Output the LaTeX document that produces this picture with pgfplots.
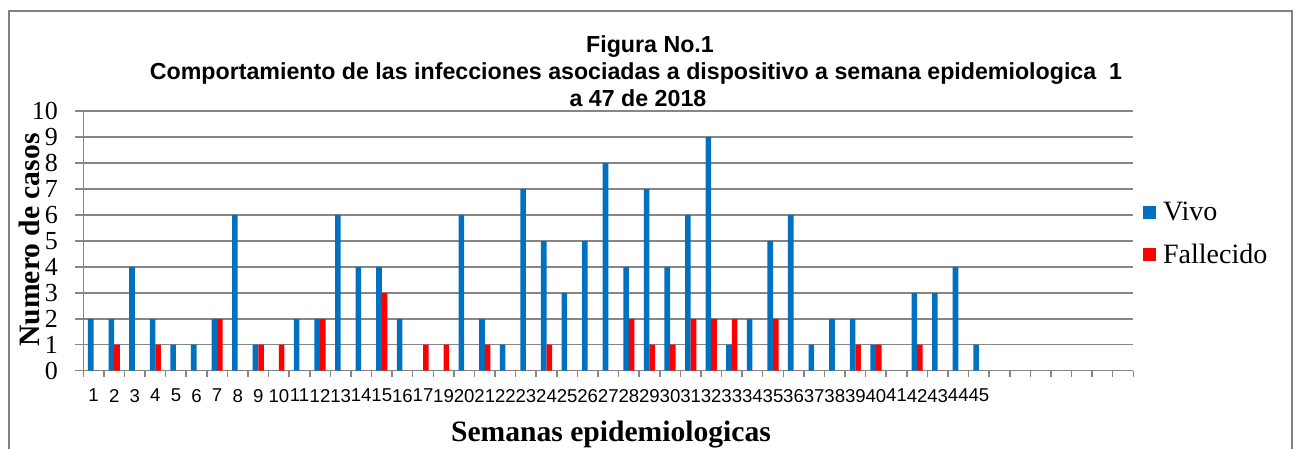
\documentclass[border=0pt]{standalone}
\usepackage{pgfplots}
\pgfplotsset{compat=1.18}
\usepackage{pgfplotstable}
\usepackage{fontspec}
\setmainfont{Liberation Serif}
\newfontfamily\arialfont{Liberation Sans}
\definecolor{vivo}{RGB}{0,112,192}
\definecolor{fall}{RGB}{255,0,0}
\definecolor{gridg}{RGB}{134,134,134}
\definecolor{frameg}{RGB}{128,128,128}

\pgfplotstableread{
idx label vivo fall
0 1 2 0
1 2 2 1
2 3 4 0
3 4 2 1
4 5 1 0
5 6 1 0
6 7 2 2
7 8 6 0
8 9 1 1
9 10 0 1
10 11 2 0
11 12 2 2
12 13 6 0
13 14 4 0
14 15 4 3
15 16 2 0
16 17 0 1
17 19 0 1
18 20 6 0
19 21 2 1
20 22 1 0
21 23 7 0
22 24 5 1
23 25 3 0
24 26 5 0
25 27 8 0
26 28 4 2
27 29 7 1
28 30 4 1
29 31 6 2
30 32 9 2
31 33 1 2
32 34 2 0
33 35 5 2
34 36 6 0
35 37 1 0
36 38 2 0
37 39 2 1
38 40 1 1
39 41 0 0
40 42 3 1
41 43 3 0
42 44 4 0
43 45 1 0
}\datatable

\begin{document}
\begin{tikzpicture}
\path[use as bounding box] (0,0) rectangle (649pt,224.5pt);
\begin{scope}[shift={(0,224.5pt)}, x=0.5pt, y=-0.5pt]
\draw[frameg, line width=0.8pt] (9,11) rectangle (1292,470);
\node[anchor=base, font=\arialfont\bfseries\fontsize{11.6}{13}\selectfont] at (650,53) {Figura No.1};
\node[anchor=base, font=\arialfont\bfseries\fontsize{11.6}{13}\selectfont] at (636,80) {Comportamiento de las infecciones asociadas a dispositivo a semana epidemiologica\ \ 1};
\node[anchor=base, font=\arialfont\bfseries\fontsize{11.6}{13}\selectfont] at (638,107) {a 47 de 2018};
\node[anchor=base, font=\bfseries\fontsize{14.8}{16}\selectfont] at (611,442) {Semanas epidemiologicas};
\node[anchor=base, rotate=90, font=\bfseries\fontsize{14.8}{16}\selectfont] at (40,240) {Numero de casos};
\end{scope}
\begin{axis}[
  at={(41.65pt,39.15pt)}, anchor=south west,
  scale only axis, width=525pt, height=129.85pt,
  ybar=0pt, bar width=2.8pt,
  xmin=-0.5, xmax=50.5, ymin=0, ymax=10,
  enlargelimits=false,
  axis lines*=left,
  axis line style={gridg, line width=0.75pt, -},
  ytick={0,1,...,10},
  ymajorgrids, grid style={gridg, line width=0.75pt},
  xtick={0,1,...,43},
  xticklabels={1,2,3,4,5,6,7,8,9,10,11,12,13,14,15,16,17,19,20,21,22,23,24,25,26,27,28,29,30,31,32,33,34,35,36,37,38,39,40,41,42,43,44,45},
  minor xtick={-0.5,0.5,...,50.5},
  major x tick style={draw=none},
  minor x tick style={gridg, line width=0.75pt},
  minor tick length=3pt,
  major y tick style={gridg, line width=0.75pt},
  major tick length=4pt,
  tick align=outside,
  /pgf/number format/assume math mode=true,
  xticklabel style={font=\arialfont\fontsize{9.3}{10}\selectfont, inner sep=0pt, yshift=-5pt},
  yticklabel style={font=\fontsize{13}{14}\selectfont, inner sep=0pt, xshift=-8.5pt},
  legend style={at={(1.009,0.526)}, anchor=west, draw=none, fill=none,
    font=\fontsize{14}{16}\selectfont, row sep=6pt, inner sep=0pt,
    nodes={inner xsep=3.5pt}},
  legend cell align=left,
  legend image code/.code={\fill[#1] (0pt,-3.25pt) rectangle (6.5pt,3.25pt);},
]
\addplot[fill=vivo, draw=none] table[x=idx, y=vivo] {\datatable};
\addplot[fill=fall, draw=none] table[x=idx, y=fall] {\datatable};
\legend{Vivo, Fallecido}
\end{axis}
\end{tikzpicture}
\end{document}
